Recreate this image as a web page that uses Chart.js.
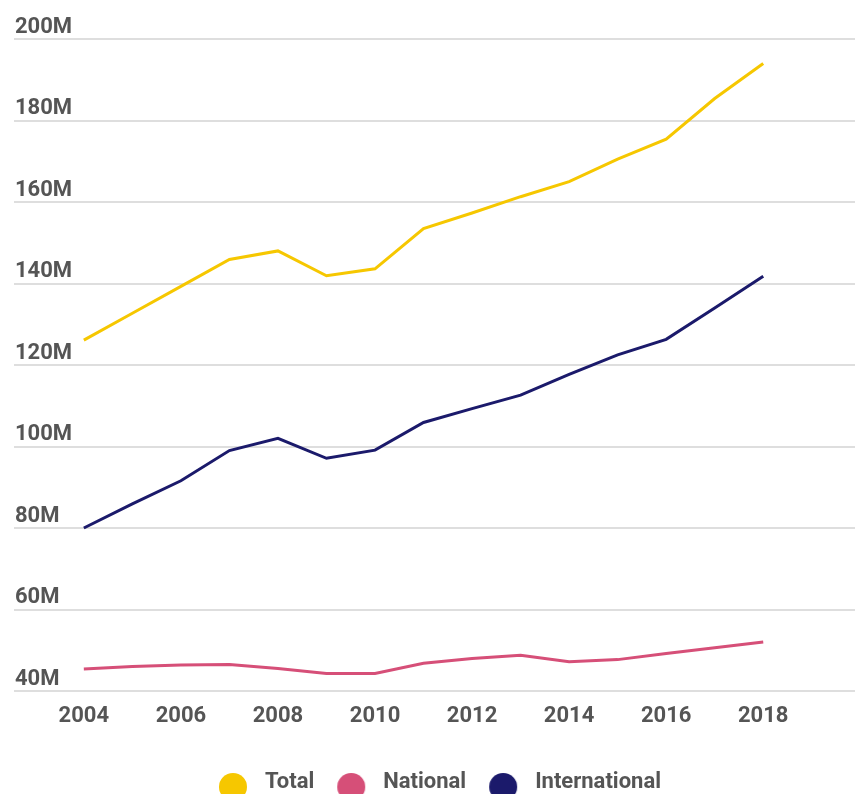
<!DOCTYPE html>
<html>
<head>
<meta charset="utf-8">
<script src="https://cdn.jsdelivr.net/npm/chart.js@4.4.0/dist/chart.umd.min.js"></script>
<style>
  html, body { margin: 0; padding: 0; overflow: hidden; background: #ffffff; }
  #wrap { position: relative; width: 855px; height: 803px; }
</style>
</head>
<body>
<div id="wrap"><canvas id="c"></canvas></div>
<script>
// ---- data (values in millions) ----
const years = [2004, 2005, 2006, 2007, 2008, 2009, 2010, 2011, 2012, 2013, 2014, 2015, 2016, 2017, 2018];
const totalValues = [126.1, 132.7, 139.3, 145.9, 148.0, 141.9, 143.6, 153.5, 157.3, 161.3, 165.0, 170.5, 175.4, 185.4, 194.0];
const nationalValues = [45.4, 46.0, 46.4, 46.5, 45.5, 44.3, 44.3, 46.8, 48.0, 48.8, 47.2, 47.7, 49.2, 50.6, 52.0];
const internationalValues = [80.0, 85.9, 91.6, 99.0, 102.0, 97.1, 99.1, 105.9, 109.3, 112.6, 117.7, 122.5, 126.3, 134.0, 141.8];
const xTickYears = [2004, 2006, 2008, 2010, 2012, 2014, 2016, 2018];
const yTickValues = [40, 60, 80, 100, 120, 140, 160, 180, 200];
const seriesNames = ['Total', 'National', 'International'];

const colors = ['#F6C700', '#D64F78', '#1B1A6B'];
const textColor = '#555555';

function toPoints(vals) { return years.map((y, i) => ({ x: y, y: vals[i] })); }

// legend marker images: circle with transparent margins
function markerFor(color) {
  const c = document.createElement('canvas');
  c.width = 48; c.height = 40;
  const g = c.getContext('2d');
  g.fillStyle = color;
  g.beginPath();
  g.arc(13 + 14, 25, 14, 0, Math.PI * 2);
  g.fill();
  return c;
}
const markers = colors.map(markerFor);

Chart.defaults.font.family = 'Roboto';
Chart.defaults.font.weight = 'bold';
Chart.defaults.color = textColor;

const labelFont = { size: 22, weight: 'bold' };

new Chart(document.getElementById('c'), {
  type: 'line',
  data: {
    datasets: [
      { label: seriesNames[0], data: toPoints(totalValues), borderColor: colors[0], backgroundColor: colors[0] },
      { label: seriesNames[1], data: toPoints(nationalValues), borderColor: colors[1], backgroundColor: colors[1] },
      { label: seriesNames[2], data: toPoints(internationalValues), borderColor: colors[2], backgroundColor: colors[2] }
    ].map((d, i) => Object.assign(d, {
      borderWidth: 3, tension: 0, pointRadius: 0, pointHoverRadius: 0, fill: false,
      pointStyle: markers[i]
    }))
  },
  options: {
    responsive: true,
    maintainAspectRatio: false,
    animation: false,
    layout: { padding: { top: 39, left: 12, right: 0, bottom: 0 } },
    scales: {
      x: {
        type: 'linear',
        min: 2002.561,
        max: 2019.891,
        grid: { display: false, drawTicks: false },
        border: { display: false },
        ticks: {
          stepSize: 1,
          padding: 12,
          color: textColor,
          font: labelFont,
          callback: (v) => String(v)
        },
        afterBuildTicks: (axis) => {
          axis.ticks = xTickYears.map(v => ({ value: v }));
        },
        afterFit: (axis) => { axis.height = 70; }
      },
      y: {
        type: 'linear',
        min: 40,
        max: 200,
        grid: { color: '#dedede', lineWidth: 2, drawTicks: false },
        border: { display: false },
        afterBuildTicks: (axis) => {
          axis.ticks = yTickValues.map(v => ({ value: v }));
        },
        ticks: {
          mirror: true,
          padding: 1,
          labelOffset: -12,
          color: textColor,
          font: labelFont,
          callback: (v) => v + 'M'
        }
      }
    },
    plugins: {
      tooltip: { enabled: false },
      legend: {
        display: true,
        position: 'bottom',
        labels: {
          usePointStyle: true,
          pointStyleWidth: 48,
          padding: 10,
          color: textColor,
          font: labelFont,
          generateLabels: (chart) => {
            const items = Chart.defaults.plugins.legend.labels.generateLabels(chart);
            items.forEach((it) => { it.pointStyle = markers[it.datasetIndex]; });
            return items;
          }
        }
      }
    }
  }
});
</script>
</body>
</html>
